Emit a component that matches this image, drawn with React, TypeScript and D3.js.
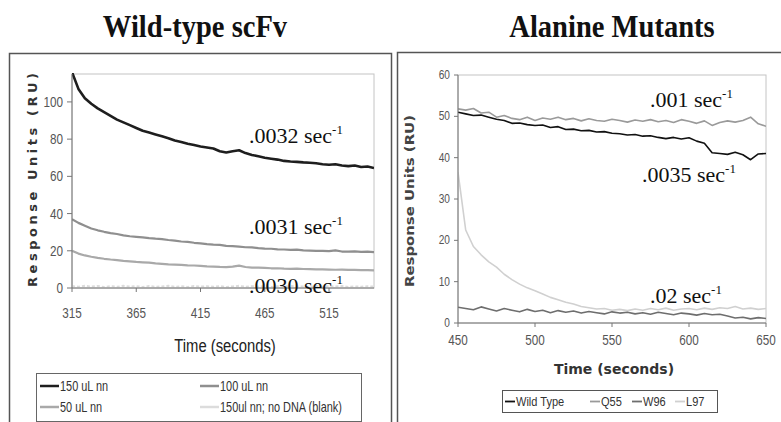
import React from "react";
import * as d3 from "d3";

// ---------- Left panel data (Wild-type scFv) ----------
const leftTimes = [315,320,325,330,335,340,345,350,355,360,365,370,375,380,385,390,395,400,405,410,415,420,425,430,435,440,445,450,455,460,465,470,475,480,485,490,495,500,505,510,515,520,525,530,535,540,545,550];
const s150 = [116,107,102,99,96.5,94.5,92.5,90.5,89,87.5,86,84.5,83.5,82.5,81.5,80.5,79.3,78.5,77.5,76.8,76,75.5,75,73.5,72.8,73.5,74,72.5,71.5,70.8,70,69.5,69,68.3,68,67.8,67.5,67.3,67,66.5,66.2,66.5,65.8,65.5,65.8,65,65.3,64.5];
const s100 = [37,35,33.5,32,31,30.2,29.5,29,28.3,27.8,27.5,27.2,26.8,26.5,26.3,25.8,25.5,25,24.8,24.3,24,23.6,23.3,23.2,22.6,22.5,22.2,21.9,21.8,21.4,21.2,21.1,20.8,20.7,20.5,20.6,20.2,20.1,20,19.9,19.8,20.2,19.6,19.5,19.7,19.4,19.5,19.3];
const s50 = [20,18.5,17.5,16.8,16.2,15.7,15.3,15,14.6,14.3,14,13.8,13.6,13.2,13,12.7,12.6,12.4,12.2,12.1,11.9,11.6,11.5,11.3,11.2,11.5,12,11.3,11,10.9,10.8,10.6,10.6,10.4,10.3,10.4,10.2,10.1,10,10,9.9,9.8,9.9,9.7,9.7,9.6,9.6,9.5];
const sBlank = [1.0,0.6,1.1,0.7,1.0,0.5,0.9,0.6,1.1,0.7,0.9,0.5,1.0,0.6,0.8,1.1,0.6,0.9,0.5,1.0,0.7,0.9,0.6,1.0,0.5,0.8,1.1,0.6,0.9,0.7,1.0,0.5,0.9,0.6,1.0,0.7,0.8,0.5,1.0,0.6,0.9,0.7,1.0,0.5,0.8,0.6,0.9,0.7];
const leftXTicks = [315,365,415,465,515];
const leftYTicks = [0,20,40,60,80,100];
const leftSeriesNames = ["150 uL nn","100 uL nn","50 uL nn","150ul nn; no DNA (blank)"];

// ---------- Right panel data (Alanine Mutants) ----------
const rightTimes = [450,455,460,465,470,475,480,485,490,495,500,505,510,515,520,525,530,535,540,545,550,555,560,565,570,575,580,585,590,595,600,605,610,615,620,625,630,635,640,645,650];
const wildType = [51,50.6,50.2,50.3,49.8,49.3,49.0,48.3,48.4,48.0,47.8,47.9,47.3,47.5,46.8,46.9,46.5,46.6,46.2,46.3,45.9,45.8,45.5,45.6,45.2,45.3,44.9,44.6,44.9,44.5,44.8,44.0,43.5,41.2,41.0,40.8,41.3,40.7,39.5,40.9,41.0];
const q55 = [51.8,51.5,51.9,50.8,51.0,49.8,50.2,49.5,49.2,49.8,49.0,49.6,49.3,49.8,49.2,49.5,48.9,49.4,49.0,48.8,49.3,49.0,48.6,49.1,48.8,49.2,48.7,49.0,48.5,49.2,48.8,48.3,48.9,47.8,48.5,48.9,48.6,49.0,49.8,48.2,47.6];
const w96 = [3.8,3.5,3.2,3.9,3.4,2.9,3.5,3.1,2.7,3.3,2.8,3.1,2.5,3.0,2.6,2.9,2.4,2.8,2.5,2.2,2.7,2.4,2.6,2.2,2.5,2.1,2.6,2.3,2.0,2.4,2.2,1.9,2.3,2.0,2.1,1.7,1.2,1.4,1.0,1.3,1.1];
const l97 = [36.5,22.5,18.5,16.5,14.8,13.5,11.8,10.5,9.4,8.5,7.8,7.0,6.2,5.6,5.0,4.6,4.0,3.7,3.4,3.5,3.1,3.3,3.0,3.4,3.1,3.5,3.2,3.6,3.1,3.4,3.5,3.2,3.6,3.3,3.7,3.5,4.0,3.4,3.6,3.3,3.5];
const rightXTicks = [450,500,550,600,650];
const rightYTicks = [0,10,20,30,40,50,60];
const rightSeriesNames = ["Wild Type","Q55","W96","L97"];

const leftColors = ["#1e1e1e","#8f8f8f","#a9a9a9","#dcdcdc"];
const rightColors = ["#111111","#9a9a9a","#6e6e6e","#d0d0d0"];

const SANS = "'Liberation Sans', Arial, sans-serif";
const SERIF = "'Liberation Serif', 'Times New Roman', serif";

function Narrow({ x, y, size, anchor = "start", fill = "#555", sx = 0.78, weight = "normal", children }: any) {
  return (
    <text transform={`translate(${x},${y}) scale(${sx},1)`} textAnchor={anchor} fontFamily={SANS} fontSize={size} fill={fill} fontWeight={weight}>
      {children}
    </text>
  );
}

function Rate({ x, y, label }: { x: number; y: number; label: string }) {
  return (
    <text x={x} y={y} fontFamily={SERIF} fontSize={22} fill="#111">
      {label} sec
      <tspan fontSize={13} dy={-9}>-1</tspan>
    </text>
  );
}

export default function App() {
  const lx = d3.scaleLinear().domain([315, 550]).range([72, 374]);
  const ly = d3.scaleLinear().domain([0, 115]).range([288, 74]);
  const rx = d3.scaleLinear().domain([450, 650]).range([458, 766]);
  const ry = d3.scaleLinear().domain([0, 60]).range([323, 75]);

  const leftSeries = [s150, s100, s50, sBlank];
  const rightSeries = [wildType, q55, w96, l97];

  const lLine = (vals: number[]) =>
    d3.line<number>().x((_, i) => lx(leftTimes[i])).y((v) => ly(v))(vals) || "";
  const rLine = (vals: number[]) =>
    d3.line<number>().x((_, i) => rx(rightTimes[i])).y((v) => ry(v))(vals) || "";

  const drawOrder = [3, 2, 1, 0];

  return (
    <svg width={781} height={422} style={{ position: "absolute", left: 0, top: 0, background: "#fff" }}>
      <rect x={0} y={0} width={781} height={422} fill="#fff" />
      {/* Titles */}
      <text transform="translate(195,37) scale(1.02,1.12)" textAnchor="middle" fontFamily={SERIF} fontWeight="bold" fontSize={28} fill="#111">Wild-type scFv</text>
      <text transform="translate(612,37) scale(1.02,1.12)" textAnchor="middle" fontFamily={SERIF} fontWeight="bold" fontSize={28} fill="#111">Alanine Mutants</text>

      {/* Panel frames */}
      <rect x={9.5} y={53.5} width={382} height={380} fill="none" stroke="#555" strokeWidth={1.5} />
      <rect x={397.5} y={52.5} width={390} height={380} fill="none" stroke="#555" strokeWidth={1.5} />

      {/* ---------- LEFT PANEL ---------- */}
      <rect x={72} y={74} width={302} height={214} fill="#fff" stroke="#c4c4c4" strokeWidth={1} />
      <clipPath id="clipL"><rect x={72} y={73} width={302} height={216} /></clipPath>
      <g clipPath="url(#clipL)">
        {drawOrder.map((k) => (
          <path key={k} d={lLine(leftSeries[k])} fill="none" stroke={leftColors[k]} strokeWidth={k === 0 ? 2.6 : 2.2} strokeLinejoin="round" strokeDasharray={k === 3 ? "3,2" : undefined} />
        ))}
      </g>
      <line x1={72} x2={72} y1={74} y2={288} stroke="#777" strokeWidth={1} />
      <line x1={72} x2={374} y1={288} y2={288} stroke="#777" strokeWidth={1} />
      {leftYTicks.map((t) => (
        <g key={t}>
          <line x1={67} x2={72} y1={ly(t)} y2={ly(t)} stroke="#777" />
          <Narrow x={63} y={ly(t) + 5} size={15} anchor="end">{t}</Narrow>
        </g>
      ))}
      {leftXTicks.map((t) => (
        <g key={t}>
          <line x1={lx(t)} x2={lx(t)} y1={288} y2={292} stroke="#777" />
          <Narrow x={lx(t)} y={318} size={15} anchor="middle">{t}</Narrow>
        </g>
      ))}
      <text transform="translate(37,180) rotate(-90)" textAnchor="middle" fontFamily="'DejaVu Sans', sans-serif" fontWeight="bold" fontSize={13} fill="#333" textLength={214} lengthAdjust="spacing">Response Units (RU)</text>
      <Narrow x={225} y={352} size={19} anchor="middle" fill="#222">Time (seconds)</Narrow>
      <Rate x={249} y={143} label=".0032" />
      <Rate x={249} y={234} label=".0031" />
      <Rate x={249} y={293} label=".0030" />

      {/* left legend */}
      <rect x={36.5} y={373.5} width={325} height={48} fill="#fff" stroke="#666" strokeWidth={1} />
      {leftSeriesNames.map((n, i) => {
        const col = i % 2;
        const row = Math.floor(i / 2);
        const x0 = col === 0 ? 40 : 200;
        const y0 = row === 0 ? 386 : 407;
        return (
          <g key={n}>
            <line x1={x0} x2={x0 + 19} y1={y0} y2={y0} stroke={leftColors[i]} strokeWidth={2.5} />
            <Narrow x={x0 + 20} y={y0 + 5} size={14} fill="#333">{n}</Narrow>
          </g>
        );
      })}

      {/* ---------- RIGHT PANEL ---------- */}
      <rect x={458} y={75} width={308} height={248} fill="#fff" stroke="#c4c4c4" strokeWidth={1} />
      <clipPath id="clipR"><rect x={458} y={74} width={308} height={250} /></clipPath>
      <g clipPath="url(#clipR)">
        {drawOrder.map((k) => (
          <path key={k} d={rLine(rightSeries[k])} fill="none" stroke={rightColors[k]} strokeWidth={1.6} strokeLinejoin="round" />
        ))}
      </g>
      <line x1={458} x2={458} y1={75} y2={323} stroke="#777" strokeWidth={1} />
      <line x1={458} x2={766} y1={323} y2={323} stroke="#777" strokeWidth={1} />
      {rightYTicks.map((t) => (
        <g key={t}>
          <line x1={454} x2={458} y1={ry(t)} y2={ry(t)} stroke="#777" />
          <Narrow x={450} y={ry(t) + 4} size={13} anchor="end">{t}</Narrow>
        </g>
      ))}
      {rightXTicks.map((t) => (
        <g key={t}>
          <line x1={rx(t)} x2={rx(t)} y1={323} y2={327} stroke="#777" />
          <Narrow x={rx(t)} y={345} size={15} anchor="middle">{t}</Narrow>
        </g>
      ))}
      <text transform="translate(414,201) rotate(-90)" textAnchor="middle" fontFamily="'DejaVu Sans', sans-serif" fontWeight="bold" fontSize={13} fill="#444" textLength={172} lengthAdjust="spacingAndGlyphs">Response Units (RU)</text>
      <text x={614} y={374} textAnchor="middle" fontFamily="'DejaVu Sans', sans-serif" fontWeight="bold" fontSize={14} fill="#333">Time (seconds)</text>
      <Rate x={650} y={107} label=".001" />
      <Rate x={642} y={182} label=".0035" />
      <Rate x={650} y={303} label=".02" />

      {/* right legend */}
      <rect x={502.5} y={390.5} width={215} height={22} fill="#fff" stroke="#555" strokeWidth={1} />
      {rightSeriesNames.map((n, i) => {
        const starts = [505, 590, 632, 675];
        const x0 = starts[i];
        return (
          <g key={n}>
            <line x1={x0} x2={x0 + 10} y1={401.5} y2={401.5} stroke={rightColors[i]} strokeWidth={1.8} />
            <Narrow x={x0 + 11} y={406} size={13} fill="#333" sx={0.85}>{n}</Narrow>
          </g>
        );
      })}
    </svg>
  );
}
